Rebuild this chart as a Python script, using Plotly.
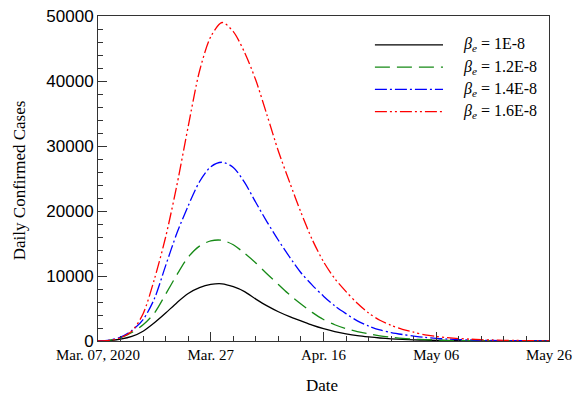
import plotly.graph_objects as go
import pandas as pd

# ---- data ----
start_date = "2020-03-07"
day_offsets = list(range(0, 82, 2))  # days after Mar 07, 2020

cases_1_0 = [0, 60, 280, 700, 1500, 2800, 4300, 5900, 7300, 8200, 8700, 8800, 8350, 7600,
             6450, 5400, 4500, 3750, 3100, 2450, 1900, 1450, 1100, 820, 620, 460, 340, 250,
             180, 130, 95, 70, 50, 35, 25, 18, 12, 9, 6, 4, 3]
cases_1_2 = [0, 100, 500, 1300, 2500, 4300, 7200, 10200, 12900, 14600, 15400, 15500, 14800,
             13500, 12000, 10300, 8700, 7100, 5700, 4400, 3300, 2500, 1900, 1450, 1100, 800,
             580, 400, 280, 200, 140, 100, 70, 50, 35, 25, 18, 12, 8, 6, 4]
cases_1_4 = [0, 120, 600, 1600, 3300, 6500, 11600, 16600, 20800, 24500, 26800, 27500, 26700,
             24400, 21300, 18300, 15500, 12900, 10500, 8600, 6900, 5400, 4200, 3100, 2300,
             1700, 1300, 1000, 750, 550, 400, 300, 220, 160, 120, 85, 60, 45, 32, 23, 16]
cases_1_6 = [0, 100, 500, 1500, 4200, 9500, 16000, 24000, 33000, 41500, 46800, 49000, 47600,
             44400, 40100, 34700, 29200, 24400, 19800, 15600, 12200, 9600, 7600, 5800, 4300,
             3200, 2400, 1800, 1350, 950, 700, 520, 380, 280, 200, 150, 110, 80, 60, 45, 32]

series_labels = ["<i>β<sub>e</sub></i> = 1E-8", "<i>β<sub>e</sub></i> = 1.2E-8",
                 "<i>β<sub>e</sub></i> = 1.4E-8", "<i>β<sub>e</sub></i> = 1.6E-8"]
series_values = [cases_1_0, cases_1_2, cases_1_4, cases_1_6]

tick_dates = ["2020-03-07", "2020-03-27", "2020-04-16", "2020-05-06", "2020-05-26"]
tick_labels = ["Mar. 07, 2020", "Mar. 27", "Apr. 16", "May 06", "May 26"]
x_title = "Date"
y_title = "Daily Confirmed Cases"

# ---- styles ----
colors = ["#000000", "#168a16", "#0000ff", "#ff0000"]
dashes = ["solid", "15px,7px", "12px,3px,2px,3px", "12px,3px,2px,3px,2px,3px"]

dates = pd.to_datetime(start_date) + pd.to_timedelta(day_offsets, unit="D")

fig = go.Figure()
for vals, col, dsh in zip(series_values, colors, dashes):
    fig.add_trace(go.Scatter(x=dates, y=vals, mode="lines",
                             line=dict(color=col, width=1.3, dash=dsh, shape="spline", smoothing=0.8),
                             showlegend=False))

serif = "Liberation Serif, Times New Roman, serif"
sans = "Liberation Sans, Arial, sans-serif"

# manual legend (long line samples like the reference)
leg_y = [0.911, 0.843, 0.774, 0.706]
for yy, col, dsh, lab in zip(leg_y, colors, dashes, series_labels):
    fig.add_shape(type="line", xref="paper", yref="paper", x0=0.614, x1=0.765, y0=yy, y1=yy,
                  line=dict(color=col, width=1.3, dash=dsh))
    fig.add_annotation(xref="paper", yref="paper", x=0.805, y=yy, text=lab, showarrow=False,
                       xanchor="left", yanchor="middle",
                       font=dict(family=serif, size=16, color="black"))

# axis titles
fig.add_annotation(xref="paper", yref="paper", x=0.497, y=-0.138, text=x_title, showarrow=False,
                   xanchor="center", yanchor="middle", font=dict(family=serif, size=17, color="black"))
fig.add_annotation(xref="paper", yref="paper", x=-0.175, y=0.495, text=y_title, showarrow=False,
                   textangle=-90, xanchor="center", yanchor="middle",
                   font=dict(family=serif, size=17, color="black"))

# page body has an 8px margin, so the figure is 8px smaller and shifted
fig.update_layout(
    width=575, height=388,
    margin=dict(l=90, r=34, t=8, b=55, autoexpand=False),
    paper_bgcolor="white", plot_bgcolor="white",
    showlegend=False,
)
fig.update_xaxes(
    type="date", range=["2020-03-07", "2020-05-26"], automargin=False,
    tickmode="array", tickvals=tick_dates, ticktext=tick_labels,
    ticks="inside", ticklen=9, tickwidth=1, tickcolor="#333",
    minor=dict(ticks="inside", ticklen=5, tickwidth=1, tickcolor="#333",
               dtick=4 * 86400000, tick0="2020-03-07", showgrid=False),
    showline=True, linecolor="#333", linewidth=1, mirror=True,
    showgrid=False, zeroline=False, ticklabeloverflow="allow",
    tickfont=dict(family=serif, size=15, color="black"),
)
fig.update_yaxes(
    range=[0, 50000], dtick=10000, tickformat="d", automargin=False,
    ticks="inside", ticklen=9, tickwidth=1, tickcolor="#333",
    minor=dict(ticks="inside", ticklen=5, tickwidth=1, tickcolor="#333", dtick=2000, showgrid=False),
    showline=True, linecolor="#333", linewidth=1, mirror=True,
    showgrid=False, zeroline=False, ticklabeloverflow="allow",
    tickfont=dict(family=sans, size=17, color="black"),
)

fig.write_html("out.html")
